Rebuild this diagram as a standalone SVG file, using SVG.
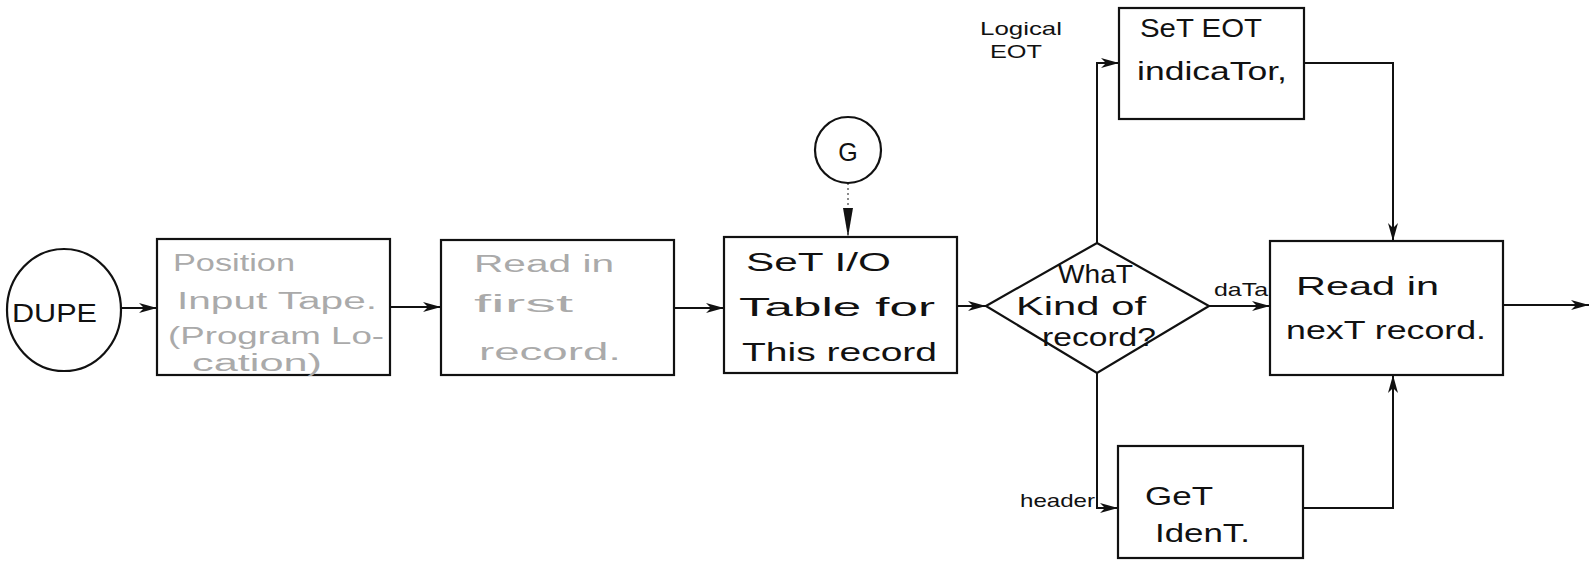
<svg xmlns="http://www.w3.org/2000/svg" width="1591" height="562" viewBox="0 0 1591 562">
<style>
.shape{fill:none;stroke:#111;stroke-width:2.2}
.conn{fill:none;stroke:#111;stroke-width:2}
.dot{fill:none;stroke:#666;stroke-width:1.5;stroke-dasharray:2,3}
.t{font-family:"Liberation Sans","DejaVu Sans",sans-serif;fill:#111;font-size:25px}
.f{font-family:"Liberation Sans","DejaVu Sans",sans-serif;fill:#aaa;font-size:23px}
.s{font-family:"Liberation Sans","DejaVu Sans",sans-serif;fill:#111;font-size:19px}
</style>
<defs>
<marker id="ah" markerUnits="userSpaceOnUse" markerWidth="20" markerHeight="12" refX="18" refY="6" orient="auto">
<path d="M0,1 L18,6 L0,11 L5,6 z" fill="#111"/>
</marker>
</defs>
<rect width="1591" height="562" fill="#fff"/>
<g id="connectors">
<path class="conn" d="M121,308 L157,308" marker-end="url(#ah)"/>
<path class="conn" d="M390,307 L441,307" marker-end="url(#ah)"/>
<path class="conn" d="M674,308 L724,308" marker-end="url(#ah)"/>
<path class="dot" d="M848,183 L848,237"/>
<path d="M843,208 L848,237 L853,208 z" fill="#111"/>
<path class="conn" d="M957,306 L986,306" marker-end="url(#ah)"/>
<path class="conn" d="M1209,306 L1270,306" marker-end="url(#ah)"/>
<path class="conn" d="M1503,305 L1589,305" marker-end="url(#ah)"/>
<path class="conn" d="M1097,243 L1097,63 L1119,63" marker-end="url(#ah)"/>
<path class="conn" d="M1304,63 L1393,63 L1393,241" marker-end="url(#ah)"/>
<path class="conn" d="M1097,373 L1097,508 L1118,508" marker-end="url(#ah)"/>
<path class="conn" d="M1303,508 L1393,508 L1393,375" marker-end="url(#ah)"/>
<text class="s" x="1214" y="296" font-size="21" textLength="54" lengthAdjust="spacingAndGlyphs">daTa</text>
<text class="s" x="980" y="35" textLength="82" lengthAdjust="spacingAndGlyphs">Logical</text>
<text class="s" x="990" y="58" textLength="52" lengthAdjust="spacingAndGlyphs">EOT</text>
<text class="s" x="1020" y="507" textLength="75" lengthAdjust="spacingAndGlyphs">header</text>
</g>
<g id="dupe">
<ellipse class="shape" cx="64" cy="310" rx="57" ry="61"/>
<text class="t" x="12" y="322" font-size="32" textLength="85" lengthAdjust="spacingAndGlyphs">DUPE</text>
</g>
<g id="position">
<rect class="shape" x="157" y="239" width="233" height="136"/>
<text class="f" x="173" y="271" textLength="122" lengthAdjust="spacingAndGlyphs">Position</text>
<text class="f" x="177" y="309" textLength="200" lengthAdjust="spacingAndGlyphs">Input Tape.</text>
<text class="f" x="168" y="344" font-size="22" textLength="216" lengthAdjust="spacingAndGlyphs">(Program Lo-</text>
<text class="f" x="192" y="371" font-size="17" textLength="130" lengthAdjust="spacingAndGlyphs">cation)</text>
</g>
<g id="readfirst">
<rect class="shape" x="441" y="240" width="233" height="135"/>
<text class="f" x="474" y="272" textLength="140" lengthAdjust="spacingAndGlyphs">Read in</text>
<text class="f" x="474" y="312" textLength="99" lengthAdjust="spacingAndGlyphs">first</text>
<text class="f" x="479" y="360" textLength="142" lengthAdjust="spacingAndGlyphs">record.</text>
</g>
<g id="g-connector">
<circle class="shape" cx="848" cy="150" r="33"/>
<text class="t" x="848" y="161" font-size="30" text-anchor="middle">G</text>
</g>
<g id="setio">
<rect class="shape" x="724" y="237" width="233" height="136"/>
<text class="t" x="746" y="271" textLength="145" lengthAdjust="spacingAndGlyphs">SeT I/O</text>
<text class="t" x="739" y="316" textLength="196" lengthAdjust="spacingAndGlyphs">Table for</text>
<text class="t" x="742" y="361" textLength="195" lengthAdjust="spacingAndGlyphs">This record</text>
</g>
<g id="decision">
<path class="shape" d="M986,306 L1097,243 L1209,306 L1097,373 z"/>
<text class="t" x="1058" y="283" font-size="22" textLength="75" lengthAdjust="spacingAndGlyphs">WhaT</text>
<text class="t" x="1016" y="315" font-size="22" textLength="130" lengthAdjust="spacingAndGlyphs">Kind of</text>
<text class="t" x="1042" y="346" font-size="22" textLength="114" lengthAdjust="spacingAndGlyphs">record?</text>
</g>
<g id="readnext">
<rect class="shape" x="1270" y="241" width="233" height="134"/>
<text class="t" x="1296" y="295" textLength="143" lengthAdjust="spacingAndGlyphs">Read in</text>
<text class="t" x="1286" y="339" textLength="200" lengthAdjust="spacingAndGlyphs">nexT record.</text>
</g>
<g id="seteot">
<rect class="shape" x="1119" y="8" width="185" height="111"/>
<text class="t" x="1140" y="37" textLength="122" lengthAdjust="spacingAndGlyphs">SeT EOT</text>
<text class="t" x="1137" y="80" textLength="150" lengthAdjust="spacingAndGlyphs">indicaTor,</text>
</g>
<g id="getident">
<rect class="shape" x="1118" y="446" width="185" height="112"/>
<text class="t" x="1145" y="505" textLength="68" lengthAdjust="spacingAndGlyphs">GeT</text>
<text class="t" x="1155" y="542" textLength="95" lengthAdjust="spacingAndGlyphs">IdenT.</text>
</g>
</svg>
